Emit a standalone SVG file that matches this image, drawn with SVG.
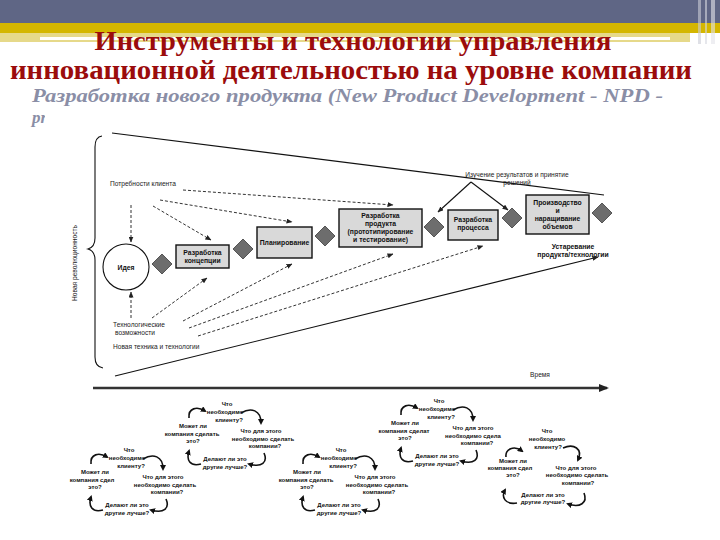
<svg xmlns="http://www.w3.org/2000/svg" width="720" height="540" viewBox="0 0 720 540">
<defs>
<style>
.t{font-family:"Liberation Sans",Arial,sans-serif;fill:#222;font-size:6.6px}
.tb{font-family:"Liberation Sans",Arial,sans-serif;fill:#111;font-size:6.8px;font-weight:bold;text-anchor:middle}
.c{font-family:"Liberation Sans",Arial,sans-serif;fill:#111;font-size:6px;font-weight:bold;text-anchor:middle}
.box{fill:#d9d9d9;stroke:#111;stroke-width:1.4}
.dia{fill:#6d6d6d;stroke:#3c3c3c;stroke-width:0.8}
.dash{fill:none;stroke:#333;stroke-width:1;stroke-dasharray:3 2;marker-end:url(#ah)}
.solid{fill:none;stroke:#111;stroke-width:1.1}
.cyc{fill:none;stroke:#111;stroke-width:1.6;marker-end:url(#ca)}
</style>
<marker id="ah" markerUnits="userSpaceOnUse" markerWidth="6" markerHeight="5" refX="5.5" refY="2.5" orient="auto"><path d="M0,0 L6,2.5 L0,5 z" fill="#222"/></marker>
<marker id="big" markerUnits="userSpaceOnUse" markerWidth="10" markerHeight="8" refX="8" refY="4" orient="auto"><path d="M0,0 L10,4 L0,8 z" fill="#222"/></marker>
<marker id="ca" markerUnits="userSpaceOnUse" markerWidth="6" markerHeight="6" refX="4" refY="3" orient="auto"><path d="M0,0 L6,3 L0,6 z" fill="#111"/></marker>
<clipPath id="subclip"><rect x="0" y="108" width="45" height="22"/></clipPath>
</defs>

<!-- header -->
<g id="header">
<rect x="0" y="0" width="720" height="23" fill="#5f6685"/>
<rect x="0" y="23" width="720" height="10" fill="#d4b600"/>
<rect x="0" y="33" width="690" height="9" fill="#e6d98a"/>
<rect x="40" y="37" width="630" height="3" fill="#ffffff"/>
<rect x="698" y="0" width="3" height="44" fill="#c9cbd6" opacity="0.6"/>
<rect x="705" y="0" width="2" height="44" fill="#d5d7e0" opacity="0.6"/>
<rect x="711" y="0" width="4" height="44" fill="#e2e3ea" opacity="0.6"/>
</g>

<g id="title">
<text x="353" y="50" text-anchor="middle" textLength="517" lengthAdjust="spacingAndGlyphs" font-family="'Liberation Serif',serif" font-weight="bold" font-size="27" fill="#9b0c0c">Инструменты и технологии управления</text>
<text x="351" y="79" text-anchor="middle" textLength="682" lengthAdjust="spacingAndGlyphs" font-family="'Liberation Serif',serif" font-weight="bold" font-size="27" fill="#9b0c0c">инновационной деятельностью на уровне компании</text>
<text x="32" y="102" textLength="631" lengthAdjust="spacingAndGlyphs" font-family="'Liberation Serif',serif" font-weight="bold" font-style="italic" font-size="18" fill="#8a8ea6">Разработка нового продукта (New Product Development - NPD -</text>
<text x="32" y="123" clip-path="url(#subclip)" font-family="'Liberation Serif',serif" font-weight="bold" font-style="italic" font-size="17" fill="#8a8ea6">pr</text>
</g>

<!-- frame lines -->
<g id="frame">
<path class="solid" d="M102,136 Q95,137 95,147 L95,238 Q95,247 88,249 Q95,251 95,260 L95,357 Q95,367 103,368"/>
<text class="t" transform="translate(77,263) rotate(-90)" text-anchor="middle" font-size="6.3">Новая революционность</text>
<line class="solid" x1="112" y1="133" x2="604" y2="195"/>
<line class="solid" x1="115" y1="376" x2="598" y2="257" marker-end="url(#ah)"/>
<line x1="93" y1="388" x2="607" y2="388" stroke="#333" stroke-width="2.4" marker-end="url(#big)"/>
<text class="t" x="540" y="377" text-anchor="middle">Время</text>
</g>

<!-- labels -->
<g id="labels">
<text class="t" x="110" y="186">Потребности клиента</text>
<text class="t" x="113" y="327" font-size="7.6">Технологические</text>
<text class="t" x="115" y="335" font-size="6">возможности</text>
<text class="t" x="113" y="349">Новая техника и технологии</text>
<text class="t" x="517" y="177" text-anchor="middle">Изучение результатов и принятие</text>
<text class="t" x="517" y="185" text-anchor="middle">решений</text>
<text class="tb" x="573" y="249">Устаревание</text>
<text class="tb" x="573" y="257">продукта/технологии</text>
</g>

<!-- nodes -->
<g id="idea"><circle cx="126" cy="267" r="23" fill="#fff" stroke="#111" stroke-width="1.1"/><text class="tb" x="126" y="270">Идея</text></g>
<g id="d1"><path class="dia" d="M162,254 L172,264 L162,274 L152,264 z"/></g>
<g id="concept"><rect class="box" x="176" y="245" width="53" height="23"/><text class="tb" x="202.5" y="255">Разработка</text><text class="tb" x="202.5" y="263">концепции</text></g>
<g id="d2"><path class="dia" d="M243,239 L253,249 L243,259 L233,249 z"/></g>
<g id="planning"><rect class="box" x="257" y="227" width="55" height="31"/><text class="tb" x="284.5" y="245">Планирование</text></g>
<g id="d3"><path class="dia" d="M325,226 L335,236 L325,246 L315,236 z"/></g>
<g id="product"><rect class="box" x="339" y="209" width="83" height="38"/><text class="tb" x="380.5" y="218">Разработка</text><text class="tb" x="380.5" y="226">продукта</text><text class="tb" x="380.5" y="234">(прототипирование</text><text class="tb" x="380.5" y="242">и тестирование)</text></g>
<g id="d4"><path class="dia" d="M434,217 L444,227 L434,237 L424,227 z"/></g>
<g id="process"><rect class="box" x="448" y="210" width="50" height="30"/><text class="tb" x="473" y="222">Разработка</text><text class="tb" x="473" y="230">процесса</text></g>
<g id="d5"><path class="dia" d="M512,208 L522,218 L512,228 L502,218 z"/></g>
<g id="production"><rect class="box" x="526" y="195" width="63" height="39"/><text class="tb" x="557.5" y="205">Производство</text><text class="tb" x="557.5" y="213">и</text><text class="tb" x="557.5" y="221">наращивание</text><text class="tb" x="557.5" y="229">объемов</text></g>
<g id="d6"><path class="dia" d="M602,203 L612,213 L602,223 L592,213 z"/></g>

<!-- connectors -->
<g id="connectors">
<line class="dash" x1="131" y1="205" x2="131" y2="242"/>
<line class="dash" x1="153" y1="206" x2="211" y2="240"/>
<line class="dash" x1="160" y1="200" x2="292" y2="222"/>
<line class="dash" x1="183" y1="190" x2="393" y2="205"/>
<line class="dash" x1="131" y1="318" x2="131" y2="292"/>
<line class="dash" x1="152" y1="318" x2="207" y2="278"/>
<line class="dash" x1="183" y1="321" x2="292" y2="264"/>
<line class="dash" x1="189" y1="328" x2="393" y2="254"/>
<line class="dash" x1="198" y1="336" x2="483" y2="246"/>
<line class="solid" x1="471" y1="182" x2="438" y2="212" marker-end="url(#ah)"/>
<line class="solid" x1="471" y1="182" x2="508" y2="210" marker-end="url(#ah)"/>
</g>

<!-- question cycles -->
<g id="cycleA" transform="translate(129,452)">
<text class="c" x="0" y="0">Что</text><text class="c" x="-2" y="8">необходимо</text><text class="c" x="2" y="16">клиенту?</text>
<text class="c" x="-34" y="22">Может ли</text><text class="c" x="-37" y="29.5">компания сдел</text><text class="c" x="-34" y="37">это?</text>
<text class="c" x="34" y="27">Что для этого</text><text class="c" x="36" y="34.5">необходимо сделать</text><text class="c" x="38" y="42">компании?</text>
<text class="c" x="-2" y="55">Делают ли это</text><text class="c" x="-2" y="63">другие лучше?</text>
<path class="cyc" d="M-38,12 C-39,2 -30,0 -22,5"/><path class="cyc" d="M14,7 C24,1 34,4 34,17"/><path class="cyc" d="M37,47 C41,56 35,62 22,58"/><path class="cyc" d="M-26,58 C-37,61 -41,54 -38,45"/>
</g>
<g id="cycleB" transform="translate(227,406)">
<text class="c" x="0" y="0">Что</text><text class="c" x="-2" y="8">необходимо</text><text class="c" x="2" y="16">клиенту?</text>
<text class="c" x="-34" y="22">Может ли</text><text class="c" x="-35" y="29.5">компания сделать</text><text class="c" x="-34" y="37">это?</text>
<text class="c" x="34" y="27">Что для этого</text><text class="c" x="36" y="34.5">необходимо сделать</text><text class="c" x="38" y="42">компании?</text>
<text class="c" x="-2" y="55">Делают ли это</text><text class="c" x="-2" y="63">другие лучше?</text>
<path class="cyc" d="M-38,12 C-39,2 -30,0 -22,5"/><path class="cyc" d="M14,7 C24,1 34,4 34,17"/><path class="cyc" d="M37,47 C41,56 35,62 22,58"/><path class="cyc" d="M-26,58 C-37,61 -41,54 -38,45"/>
</g>
<g id="cycleC" transform="translate(341,452)">
<text class="c" x="0" y="0">Что</text><text class="c" x="-2" y="8">необходимо</text><text class="c" x="2" y="16">клиенту?</text>
<text class="c" x="-34" y="22">Может ли</text><text class="c" x="-35" y="29.5">компания сделать</text><text class="c" x="-34" y="37">это?</text>
<text class="c" x="34" y="27">Что для этого</text><text class="c" x="36" y="34.5">необходимо сделать</text><text class="c" x="38" y="42">компании?</text>
<text class="c" x="-2" y="55">Делают ли это</text><text class="c" x="-2" y="63">другие лучше?</text>
<path class="cyc" d="M-38,12 C-39,2 -30,0 -22,5"/><path class="cyc" d="M14,7 C24,1 34,4 34,17"/><path class="cyc" d="M37,47 C41,56 35,62 22,58"/><path class="cyc" d="M-26,58 C-37,61 -41,54 -38,45"/>
</g>
<g id="cycleD" transform="translate(439,403)">
<text class="c" x="0" y="0">Что</text><text class="c" x="-2" y="8">необходимо</text><text class="c" x="2" y="16">клиенту?</text>
<text class="c" x="-34" y="22">Может ли</text><text class="c" x="-35" y="29.5">компания сделат</text><text class="c" x="-34" y="37">это?</text>
<text class="c" x="34" y="27">Что для этого</text><text class="c" x="34" y="34.5">необходимо сдела</text><text class="c" x="38" y="42">компании?</text>
<text class="c" x="-2" y="55">Делают ли это</text><text class="c" x="-2" y="63">другие лучше?</text>
<path class="cyc" d="M-38,12 C-39,2 -30,0 -22,5"/><path class="cyc" d="M14,7 C24,1 34,4 34,17"/><path class="cyc" d="M37,47 C41,56 35,62 22,58"/><path class="cyc" d="M-26,58 C-37,61 -41,54 -38,45"/>
</g>
<g id="cycleE" transform="translate(547,433)">
<text class="c" x="0" y="0">Что</text><text class="c" x="0" y="8">необходимо</text><text class="c" x="1" y="16">клиенту?</text>
<text class="c" x="-34" y="30">Может ли</text><text class="c" x="-37" y="37">компания сдел</text><text class="c" x="-34" y="44">это?</text>
<text class="c" x="29" y="37">Что для этого</text><text class="c" x="30" y="44">необходимо сделать</text><text class="c" x="31" y="52">компании?</text>
<text class="c" x="-4" y="64">Делают ли это</text><text class="c" x="-4" y="71">другие лучше?</text>
<path class="cyc" d="M-41,24 C-42,16 -33,12 -25,18"/><path class="cyc" d="M16,15 C27,10 36,16 31,27"/><path class="cyc" d="M37,60 C41,70 33,75 21,71"/><path class="cyc" d="M-30,70 C-42,72 -46,64 -42,57"/>
</g>
</svg>
